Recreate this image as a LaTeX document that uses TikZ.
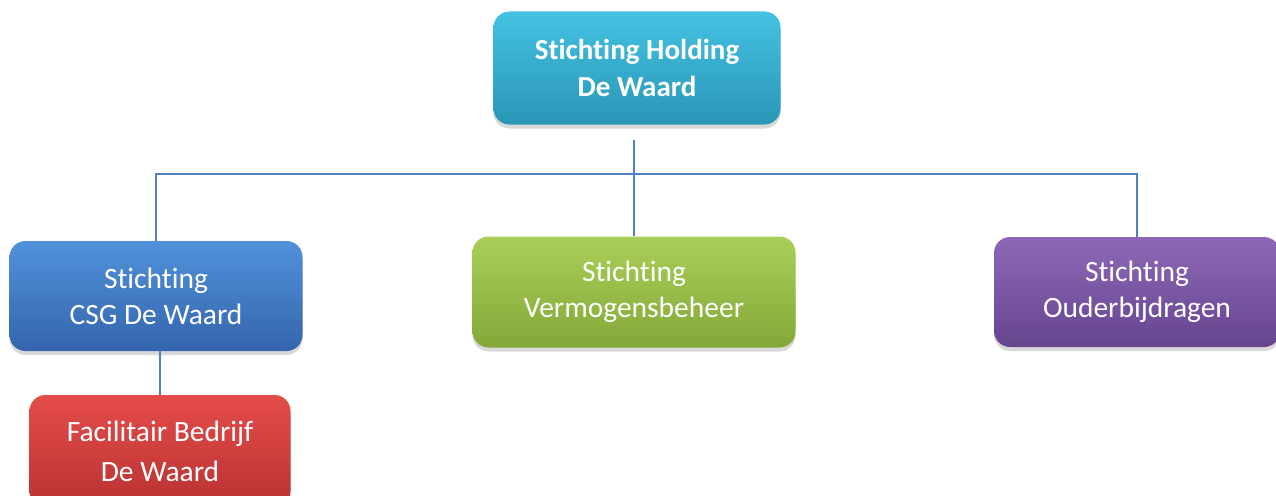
\documentclass[tikz,border=0pt]{standalone}
\usepackage{fontspec}
\setmainfont[Ligatures={NoCommon}]{Carlito}
\usetikzlibrary{shadows}
\definecolor{holdtop}{HTML}{44C2E2}
\definecolor{holdbot}{HTML}{2A96B6}
\definecolor{csgtop}{HTML}{5192DB}
\definecolor{csgbot}{HTML}{3465AC}
\definecolor{vermtop}{HTML}{AACF58}
\definecolor{vermbot}{HTML}{84A838}
\definecolor{oudtop}{HTML}{8D68B6}
\definecolor{oudbot}{HTML}{66458F}
\definecolor{faciltop}{HTML}{E44C4A}
\definecolor{facilbot}{HTML}{B93232}
\definecolor{linkblue}{HTML}{4F81BD}

\begin{document}
\begin{tikzpicture}[x=1pt,y=-1pt,
  box/.style={rounded corners=16pt, text=white, align=center, inner sep=0pt,
    font=\fontsize{29.5}{36}\selectfont,
    drop shadow={opacity=.3,shadow xshift=0pt,shadow yshift=-4pt}},
  link/.style={draw=linkblue,line width=1.5pt}]
\useasboundingbox (0,0) rectangle (1276,495);
% boxes
\node[box,top color=holdtop,bottom color=holdbot,minimum width=287pt,minimum height=113pt,
  font=\fontsize{29}{37}\selectfont\bfseries] (hold) at (637,68) {Stichting Holding\\De Waard};
\node[box,top color=csgtop,bottom color=csgbot,minimum width=293pt,minimum height=110pt] (csg) at (156,296) {Stichting\\CSG De Waard};
\node[box,top color=vermtop,bottom color=vermbot,minimum width=323pt,minimum height=111pt] (verm) at (634,292) {Stichting\\Vermogensbeheer};
\node[box,top color=oudtop,bottom color=oudbot,minimum width=286pt,minimum height=110pt] (oud) at (1137,292) {Stichting\\Ouderbijdragen};
\node[box,top color=faciltop,bottom color=facilbot,minimum width=261pt,minimum height=112pt] (facil) at (160,451) {Facilitair Bedrijf\\[4pt]De Waard};
% connectors
\coordinate (bus) at (634,174);
\draw[link] ([yshift=-15pt]hold.south -| bus) -- (bus);
\draw[link] (csg.north) |- (bus) -| (oud.north);
\draw[link] (bus) -- (verm.north);
\draw[link] (facil.north |- csg.south) -- (facil.north);
\end{tikzpicture}
\end{document}
